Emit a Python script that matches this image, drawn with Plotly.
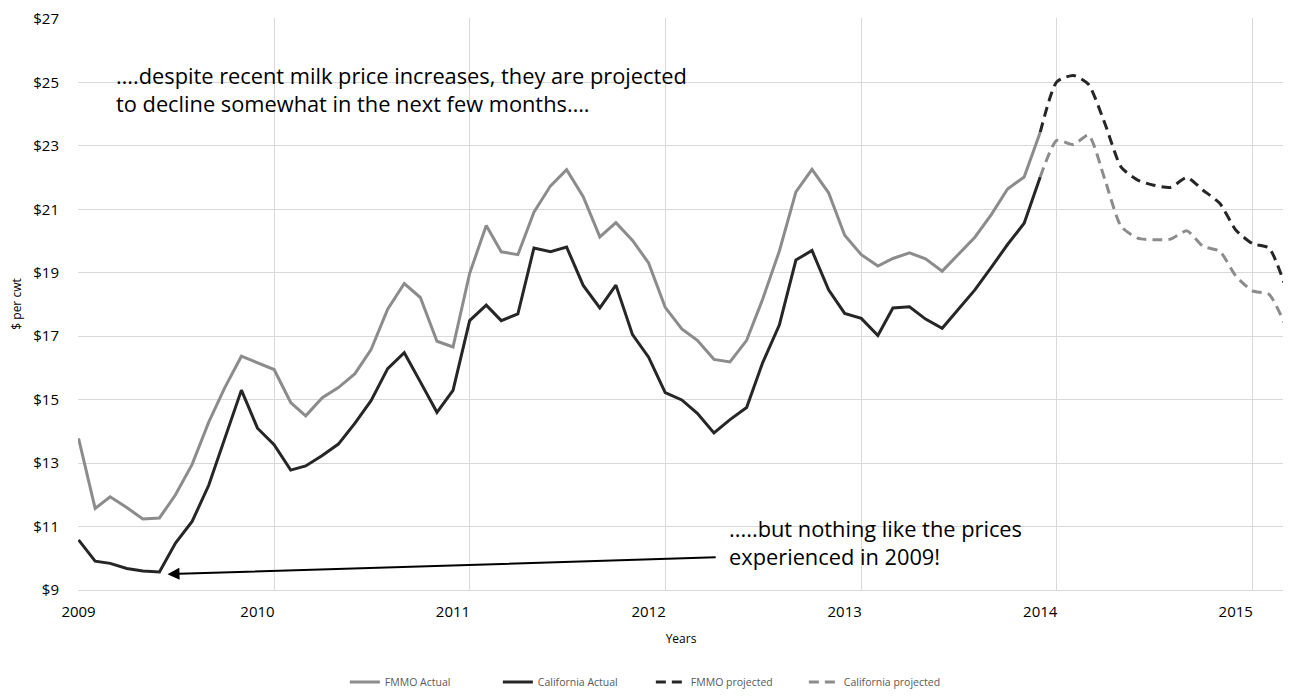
import pandas as pd
import plotly.graph_objects as go

# ---- data ----
months = pd.date_range("2009-01-01", "2015-03-01", freq="MS")  # 75 monthly points

fmmo_actual = [
    13.78, 11.57, 11.94, 11.60, 11.24, 11.27, 12.00, 12.96, 14.29, 15.38, 16.37, 16.16,
    15.95, 14.91, 14.49, 15.06, 15.38, 15.82, 16.58, 17.85, 18.66, 18.22, 16.84, 16.66,
    18.98, 20.49, 19.66, 19.57, 20.91, 21.74, 22.25, 21.40, 20.13, 20.58, 20.02, 19.31,
    17.91, 17.23, 16.87, 16.27, 16.19, 16.87, 18.17, 19.68, 21.55, 22.26, 21.52, 20.18,
    19.57, 19.21, 19.45, 19.63, 19.44, 19.05, 19.57, 20.12, 20.84, 21.64, 22.02, 23.43,
]
california_actual = [
    10.58, 9.91, 9.84, 9.68, 9.60, 9.57, 10.48, 11.16, 12.30, 13.76, 15.30, 14.10,
    13.58, 12.78, 12.91, 13.24, 13.60, 14.26, 14.97, 15.98, 16.48, 15.56, 14.60, 15.29,
    17.49, 17.98, 17.49, 17.70, 19.78, 19.66, 19.81, 18.60, 17.89, 18.61, 17.05, 16.34,
    15.22, 14.99, 14.57, 13.95, 14.37, 14.75, 16.17, 17.35, 19.40, 19.70, 18.46, 17.72,
    17.56, 17.02, 17.89, 17.93, 17.54, 17.25, 17.85, 18.46, 19.18, 19.89, 20.56, 22.02,
]
fmmo_projected = [
    23.43, 25.02, 25.22, 24.94, 23.69, 22.33, 21.92, 21.76, 21.69, 22.00, 21.60, 21.19,
    20.35, 19.92, 19.78, 18.69,
]
california_projected = [
    22.02, 23.17, 23.04, 23.34, 21.92, 20.46, 20.09, 20.04, 20.06, 20.32, 19.83, 19.68,
    18.90, 18.43, 18.32, 17.44,
]

price_ticks = [9, 11, 13, 15, 17, 19, 21, 23, 25, 27]
price_labels = ["$9", "$11", "$13", "$15", "$17", "$19", "$21", "$23", "$25", "$27"]

year_labels = ["2009", "2010", "2011", "2012", "2013", "2014", "2015"]
year_label_pos = ["2009-01-01", "2009-12-01", "2010-12-01", "2011-12-01",
                  "2012-12-01", "2013-12-01", "2014-12-01"]
year_grid_pos = ["2009-01-01", "2010-01-01", "2011-01-01", "2012-01-01",
                 "2013-01-01", "2014-01-01", "2015-01-01"]

n_act = len(fmmo_actual)
x_act = months[:n_act]
x_proj = months[n_act - 1:n_act - 1 + len(fmmo_projected)]

GRAY = "#8c8c8c"
DARK = "#262626"
FONT = "Open Sans"
TXT = "#595959"

fig = go.Figure()
fig.add_trace(go.Scatter(x=x_act, y=fmmo_actual, mode="lines", name="FMMO Actual",
                         line=dict(color=GRAY, width=3)))
fig.add_trace(go.Scatter(x=x_act, y=california_actual, mode="lines", name="California Actual",
                         line=dict(color=DARK, width=3)))
fig.add_trace(go.Scatter(x=x_proj, y=fmmo_projected, mode="lines", name="FMMO projected",
                         line=dict(color=DARK, width=3, dash="10px,6px", shape="spline",
                                   smoothing=0.6)))
fig.add_trace(go.Scatter(x=x_proj, y=california_projected, mode="lines",
                         name="California projected",
                         line=dict(color=GRAY, width=3, dash="10px,6px", shape="spline",
                                   smoothing=0.6)))

fig.add_annotation(x="2009-06-16", y=9.5, ax="2012-04-07", ay=10.03,
                   xref="x", yref="y", axref="x", ayref="y", text="",
                   showarrow=True, arrowhead=2, arrowsize=1.2, arrowwidth=2,
                   arrowcolor="black")
fig.add_annotation(x=0.030, y=0.928, xref="paper", yref="paper", xanchor="left",
                   yanchor="top", align="left", showarrow=False,
                   text="….despite recent milk price increases, they are projected<br>"
                        "to decline somewhat in the next few months….",
                   font=dict(family=FONT, size=21.8, color="black"))
fig.add_annotation(x=0.538, y=0.137, xref="paper", yref="paper", xanchor="left",
                   yanchor="top", align="left", showarrow=False,
                   text=".....but nothing like the prices<br>experienced in 2009!",
                   font=dict(family=FONT, size=21.8, color="black"))

# the page body adds an 8px offset, so the margins are set 8px smaller on the left/top
fig.update_layout(
    width=1291, height=696,
    margin=dict(l=70, r=15, t=10, b=114, autoexpand=False),
    plot_bgcolor="white", paper_bgcolor="white",
    font=dict(family=FONT, color=TXT),
    showlegend=True,
    legend=dict(orientation="h", x=0.475, xanchor="center", y=-0.161, yanchor="middle",
                font=dict(size=10.5, color=TXT), entrywidth=108, entrywidthmode="pixels",
                traceorder="normal"),
    xaxis=dict(
        range=["2008-12-31", "2015-03-01"],
        tickmode="array", tickvals=year_label_pos, ticktext=year_labels,
        showgrid=False, ticks="", tickfont=dict(size=15, color="black"),
        ticklabelstandoff=8, automargin=False,
        showline=True, linecolor="#d9d9d9", linewidth=1,
        minor=dict(tickmode="array", tickvals=year_grid_pos, showgrid=True,
                   gridcolor="#d9d9d9", gridwidth=1, ticks=""),
        title=dict(text="Years", font=dict(size=12, color="black"), standoff=14),
        zeroline=False,
    ),
    yaxis=dict(
        range=[9, 27.03], tickmode="array", tickvals=price_ticks, ticktext=price_labels,
        ticklabeloverflow="allow",
        showgrid=True, gridcolor="#d9d9d9", gridwidth=1,
        tickfont=dict(size=15, color="black"), ticklabelstandoff=18, automargin=False,
        title=dict(text="$ per cwt", font=dict(size=12, color="black"), standoff=12),
        zeroline=False, showline=False,
    ),
)

fig.write_html("out.html")
